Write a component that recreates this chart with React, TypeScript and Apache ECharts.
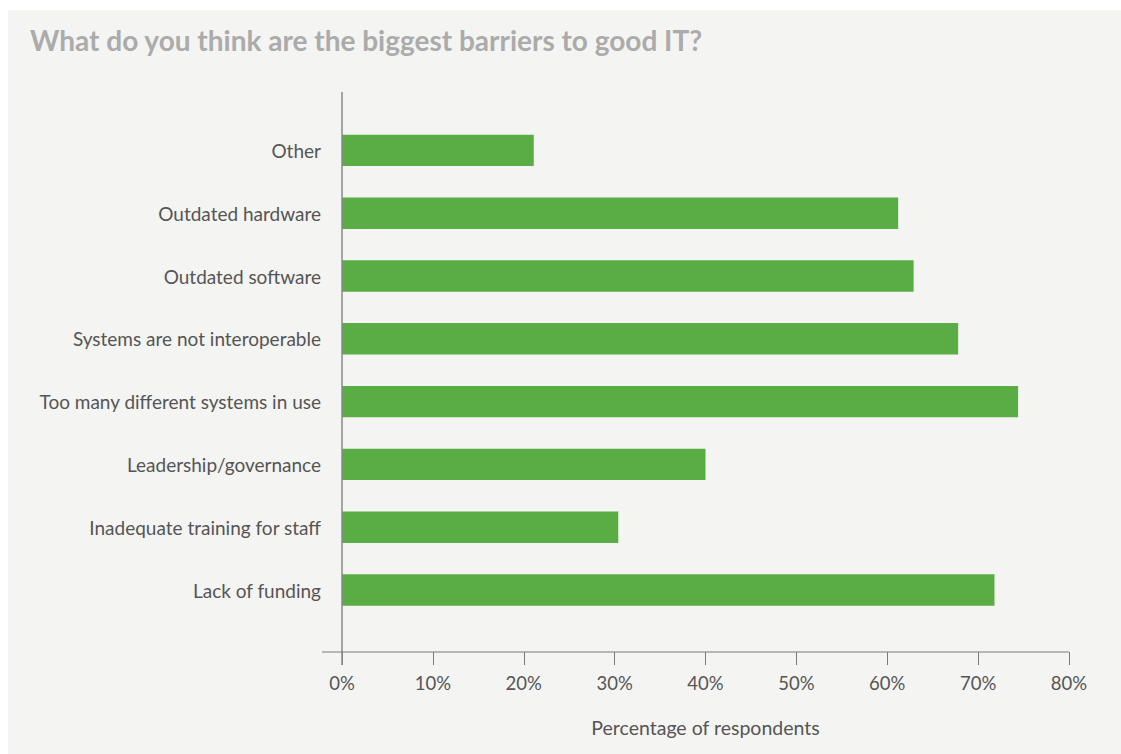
import React, { useEffect, useRef } from "react";
import * as echarts from "echarts";

const title = "What do you think are the biggest barriers to good IT?";
const categories = [
  "Lack of funding",
  "Inadequate training for staff",
  "Leadership/governance",
  "Too many different systems in use",
  "Systems are not interoperable",
  "Outdated software",
  "Outdated hardware",
  "Other",
];
const values = [71.8, 30.4, 40.0, 74.4, 67.8, 62.9, 61.2, 21.1];
const axisName = "Percentage of respondents";
const xMin = 0;
const xMax = 80;
const xInterval = 10;

export default function App() {
  const ref = useRef<HTMLDivElement>(null);
  useEffect(() => {
    if (!ref.current) return;
    const chart = echarts.init(ref.current, undefined, { renderer: "svg" });
    const font = "Lato, 'Open Sans', sans-serif";
    chart.setOption({
      animation: false,
      backgroundColor: "#f4f4f2",
      textStyle: { fontFamily: font },
      title: {
        text: title,
        left: 17,
        top: 11,
        textStyle: {
          fontFamily: font,
          fontWeight: "bold",
          fontSize: 28,
          color: "#ababab",
        },
      },
      grid: { left: 334, right: 52, top: 109, bottom: 132.6 },
      xAxis: {
        type: "value",
        min: xMin,
        max: xMax,
        interval: xInterval,
        offset: 30.6,
        axisLine: { show: false },
        axisTick: { show: true, length: 13, lineStyle: { color: "#7a7a7a", width: 1 } },
        splitLine: { show: false },
        axisLabel: {
          formatter: "{value}%",
          fontSize: 18.5,
          color: "#555",
          margin: 21,
          fontFamily: font,
        },
        name: axisName,
        nameLocation: "middle",
        nameGap: 65,
        nameTextStyle: { fontSize: 19.5, color: "#555", fontFamily: font },
      },
      yAxis: {
        type: "category",
        data: categories,
        axisLine: { show: false },
        axisTick: { show: false },
        axisLabel: { fontSize: 19, color: "#555", margin: 21, fontFamily: font },
      },
      series: [
        {
          type: "bar",
          data: values,
          barWidth: "50%",
          itemStyle: { color: "#5aac44" },
        },
      ],
      graphic: [
        {
          type: "line",
          shape: { x1: 334, y1: 82, x2: 334, y2: 655 },
          style: { stroke: "#8a8a8a", lineWidth: 1.5 },
          z: 10,
        },
        {
          type: "line",
          shape: { x1: 314, y1: 642, x2: 1061, y2: 642 },
          style: { stroke: "#7a7a7a", lineWidth: 1.2 },
          z: 10,
        },
      ],
    });
    return () => chart.dispose();
  }, []);
  return (
    <div
      ref={ref}
      style={{ width: 1113, height: 744, position: "fixed", left: 8, top: 10 }}
    />
  );
}
